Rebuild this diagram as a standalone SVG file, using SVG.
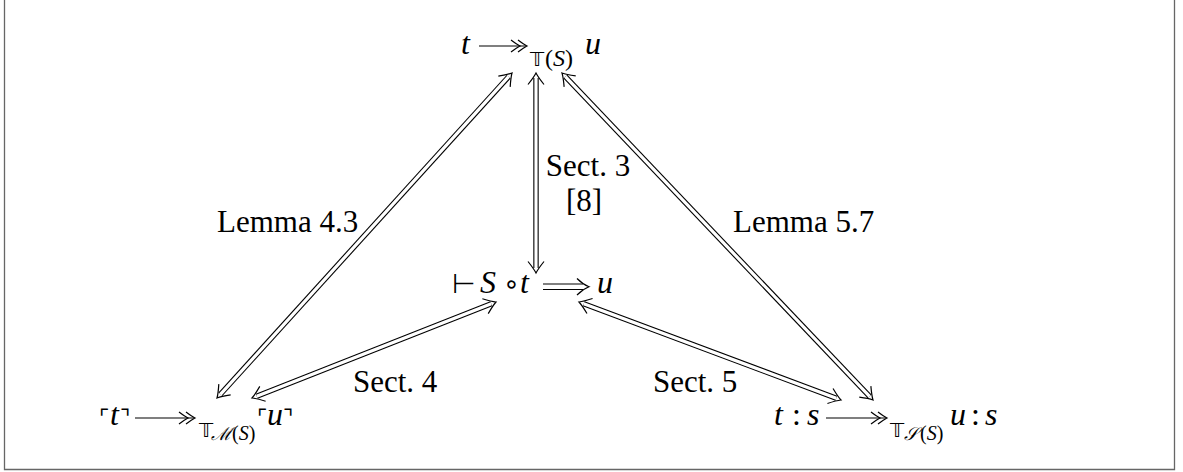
<svg xmlns="http://www.w3.org/2000/svg" width="1183" height="472" viewBox="0 0 1183 472">
<style>
.txt{font-family:'Liberation Serif','Times New Roman',serif;font-size:31px;fill:#000}
.node{font-family:'Liberation Serif','Times New Roman',serif;font-size:32px;fill:#000}
.mi{font-family:'Liberation Serif','Times New Roman',serif;font-style:italic;font-size:32px}
.mr{font-family:'Liberation Serif','Times New Roman',serif;font-style:normal;font-size:32px}
.sym{font-family:'DejaVu Sans',sans-serif;font-style:normal;font-size:27px}
.cor{font-family:'DejaVu Sans',sans-serif;font-style:normal;font-size:22px}
.sub{font-family:'Liberation Serif','Times New Roman',serif;font-style:normal;font-size:24px}
.subs{font-family:'Liberation Serif','Times New Roman',serif;font-style:normal;font-size:20px}
.cal{font-family:'Liberation Serif','Times New Roman',serif;font-style:italic;font-size:18px}
.bb{font-family:'DejaVu Sans',sans-serif;font-style:normal;font-size:20px}
.out{stroke:#000;stroke-width:5.4;fill:none}
.in{stroke:#fff;stroke-width:3.2;fill:none}
.head{stroke:#000;stroke-width:1.2;fill:none}
.tip{stroke:none;fill:none}
.ln{stroke:#000;stroke-width:1.2;fill:none}
.frame{stroke:#666;stroke-width:1.3;fill:none}
</style>
<defs>
<marker id="chev" markerUnits="userSpaceOnUse" viewBox="-14 -10 16 20" refX="0" refY="0" markerWidth="16" markerHeight="20" orient="auto-start-reverse">
<path d="M -11.5 -8 Q -4 -2 0 0 Q -4 2 -11.5 8" stroke="#000" stroke-width="1.2" fill="none"/>
</marker>
</defs>
<rect x="0" y="0" width="1183" height="472" fill="#fff"/>
<path class="frame" d="M 4.5 -2 L 4.5 469.5 L 1174.5 469.5 L 1174.5 -2"/>

<g id="connectors">
  <g id="e-lemma43">
    <line class="out" x1="508.6" y1="76.7" x2="220.4" y2="394.3"/>
    <line class="in" x1="508.6" y1="76.7" x2="220.4" y2="394.3"/>
    <path class="tip" d="M 512 73 L 217 398" marker-start="url(#chev)" marker-end="url(#chev)"/>
  </g>
  <g id="e-sect3">
    <line class="out" x1="536" y1="78" x2="536" y2="268"/>
    <line class="in" x1="536" y1="78" x2="536" y2="268"/>
    <path class="tip" d="M 536 73 L 536 273" marker-start="url(#chev)" marker-end="url(#chev)"/>
  </g>
  <g id="e-lemma57">
    <line class="out" x1="565.4" y1="76.6" x2="869.6" y2="396.4"/>
    <line class="in" x1="565.4" y1="76.6" x2="869.6" y2="396.4"/>
    <path class="tip" d="M 562 73 L 873 400" marker-start="url(#chev)" marker-end="url(#chev)"/>
  </g>
  <g id="e-sect4">
    <line class="out" x1="491.3" y1="303.8" x2="256.7" y2="396.2"/>
    <line class="in" x1="491.3" y1="303.8" x2="256.7" y2="396.2"/>
    <path class="tip" d="M 496 302 L 252 398" marker-start="url(#chev)" marker-end="url(#chev)"/>
  </g>
  <g id="e-sect5">
    <line class="out" x1="583.7" y1="303.8" x2="836.3" y2="398.2"/>
    <line class="in" x1="583.7" y1="303.8" x2="836.3" y2="398.2"/>
    <path class="tip" d="M 579 302 L 841 400" marker-start="url(#chev)" marker-end="url(#chev)"/>
  </g>
  <text class="txt" x="217" y="232">Lemma 4.3</text>
  <text class="txt" text-anchor="middle"><tspan x="588" y="176">Sect. 3</tspan><tspan x="584" y="211">[8]</tspan></text>
  <text class="txt" x="733" y="232">Lemma 5.7</text>
  <text class="txt" x="353" y="392">Sect. 4</text>
  <text class="txt" x="653" y="392">Sect. 5</text>
</g>

<g id="n-top">
  <line class="ln" x1="479" y1="46" x2="526" y2="46"/>
  <path class="head" d="M 518 40 Q 524 44.5 527 46 Q 524 47.5 518 52"/>
  <path class="head" d="M 511 40 Q 517 44.5 520 46 Q 517 47.5 511 52"/>
  <text class="node"><tspan class="mi" x="461" y="54">t</tspan><tspan class="bb" x="530" y="66">𝕋</tspan><tspan class="sub" x="545" y="66">(</tspan><tspan class="sub" style="font-style:italic">S</tspan><tspan class="sub">)</tspan><tspan class="mi" x="585" y="54">u</tspan></text>
</g>

<g id="n-mid">
  <line class="ln" x1="543" y1="284" x2="583" y2="284"/>
  <line class="ln" x1="543" y1="289.5" x2="583" y2="289.5"/>
  <path class="head" d="M 577 278.5 Q 583 284.5 589 286.75 Q 583 289 577 295"/>
  <text class="node"><tspan class="sym" x="452" y="293">⊢</tspan><tspan class="mi" x="480" y="293">S</tspan><tspan class="sym" x="503" y="293">∘</tspan><tspan class="mi" x="520" y="293">t</tspan><tspan class="mi" x="597" y="293">u</tspan></text>
</g>

<g id="n-bl">
  <line class="ln" x1="135" y1="418" x2="194" y2="418"/>
  <path class="head" d="M 186 412 Q 192 416.5 195 418 Q 192 419.5 186 424"/>
  <path class="head" d="M 179 412 Q 185 416.5 188 418 Q 185 419.5 179 424"/>
  <text class="node"><tspan class="cor" x="99" y="425">⌜</tspan><tspan class="mi" x="110" y="425">t</tspan><tspan class="cor" x="120" y="425">⌝</tspan><tspan class="bb" x="199" y="437">𝕋</tspan><tspan class="cal" x="211" y="440">ℳ</tspan><tspan class="subs" x="232" y="440">(</tspan><tspan class="subs" style="font-style:italic">S</tspan><tspan class="subs">)</tspan><tspan class="cor" x="257" y="425">⌜</tspan><tspan class="mi" x="267" y="425">u</tspan><tspan class="cor" x="283" y="425">⌝</tspan></text>
</g>

<g id="n-br">
  <line class="ln" x1="826" y1="418" x2="886" y2="418"/>
  <path class="head" d="M 878 412 Q 884 416.5 887 418 Q 884 419.5 878 424"/>
  <path class="head" d="M 871 412 Q 877 416.5 880 418 Q 877 419.5 871 424"/>
  <text class="node"><tspan class="mi" x="774" y="425">t</tspan><tspan class="mr" x="792" y="425">:</tspan><tspan class="mi" x="807" y="425">s</tspan><tspan class="bb" x="890" y="437">𝕋</tspan><tspan class="cal" x="904" y="440">𝒮</tspan><tspan class="subs" x="920" y="440">(</tspan><tspan class="subs" style="font-style:italic">S</tspan><tspan class="subs">)</tspan><tspan class="mi" x="950" y="425">u</tspan><tspan class="mr" x="971" y="425">:</tspan><tspan class="mi" x="985" y="425">s</tspan></text>
</g>
</svg>
